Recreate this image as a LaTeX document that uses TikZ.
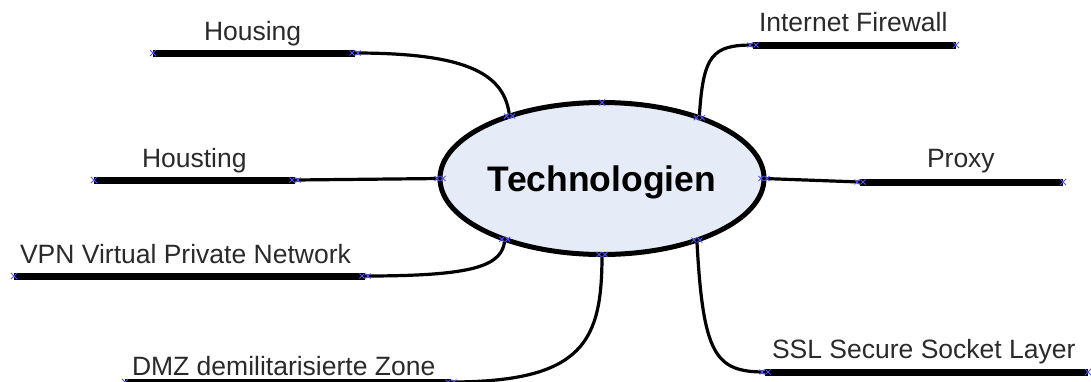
\documentclass[tikz,border=0pt]{standalone}
\usepackage{fontspec}
\setmainfont{Liberation Sans}
\usetikzlibrary{shapes.geometric}
\definecolor{bubble}{HTML}{E6ECF7}
\definecolor{labeltext}{HTML}{2A2A2A}
\definecolor{markblue}{HTML}{5050FF}
\tikzset{
  hub/.style={ellipse, draw=black, line width=5pt, fill=bubble,
    minimum width=324pt, minimum height=152pt, inner sep=0pt, outer sep=0pt,
    font=\bfseries\fontsize{35.5}{40}\selectfont, text height=25pt, text depth=0pt},
  branch/.style={line width=7pt},
  twig/.style={line width=3.2pt},
  topic/.style={font=\fontsize{26.5}{30}\selectfont, text=labeltext,
    anchor=base west, inner sep=0pt, outer sep=0pt},
  xcross/.pic={\draw[markblue, line width=0.9pt] (-3,-3)--(3,3) (-3,3)--(3,-3);},
  xpair/.pic={\draw[markblue, line width=0.9pt]
    (-5.5,-2.5)--(-0.5,2.5) (-5.5,2.5)--(-0.5,-2.5) (0.5,-2.5)--(5.5,2.5) (0.5,2.5)--(5.5,-2.5);}
}
\begin{document}
\begin{tikzpicture}[x=1pt,y=-1pt]
\useasboundingbox (0,0) rectangle (1091,381);

% central topic
\node[hub] (tech) at (602,178.5) {Technologien};

% branch joints and free ends
\coordinate (hJ) at (355,53);   \coordinate (hE) at (153,53);
\coordinate (htJ) at (295,180); \coordinate (htE) at (94,180);
\coordinate (vJ) at (365,276);  \coordinate (vE) at (14,276);
\coordinate (dJ) at (451,382);  \coordinate (dE) at (125,382);
\coordinate (fJ) at (753,45);   \coordinate (fE) at (956,45);
\coordinate (pJ) at (860,182);  \coordinate (pE) at (1063,182);
\coordinate (sJ) at (765,372);  \coordinate (sE) at (1088,372);

% connectors from the ellipse to the branches
\draw[twig] (tech.146.7) .. controls (505,75) and (470,53) .. (hJ);
\draw[twig] (tech.180) -- (htJ);
\draw[twig] (tech.212.3) .. controls (503,266) and (475,276) .. (vJ);
\draw[twig] (tech.270) .. controls (602,340) and (585,382) .. (dJ);
\draw[twig] (tech.32.5) .. controls (703,55) and (712,45) .. (fJ);
\draw[twig] (tech.0) -- (pJ);
\draw[twig] (tech.327.9) .. controls (703,355) and (715,372) .. (sJ);

% branch bars
\draw[branch] (hJ) -- (hE);
\draw[branch] (htJ) -- (htE);
\draw[branch] (vJ) -- (vE);
\draw[branch] (dJ) -- (dE);
\draw[branch] (fJ) -- (fE);
\draw[branch] (pJ) -- (pE);
\draw[branch] (sJ) -- (sE);

% branch labels
\node[topic] (lh)  at (204,40)  {Housing};
\node[topic] (lht) at (142,167) {Housting};
\node[topic] (lv)  at (20,263)  {VPN Virtual Private Network};
\node[topic] (ld)  at (132,375) {DMZ demilitarisierte Zone};
\node[topic] (lf)  at (759,31)  {Internet Firewall};
\node[topic] (lp)  at (927,167) {Proxy};
\node[topic] (ls)  at (772,358) {SSL Secure Socket Layer};

% connection points
\foreach \p in {hE,htE,vE,dE,fE,pE,sE,tech.90} \pic at (\p) {xcross};
\foreach \p in {hJ,htJ,vJ,dJ,fJ,pJ,sJ,tech.146.7,tech.180,tech.212.3,tech.270,tech.32.5,tech.0,tech.327.9}
  \pic at (\p) {xpair};
\end{tikzpicture}
\end{document}
